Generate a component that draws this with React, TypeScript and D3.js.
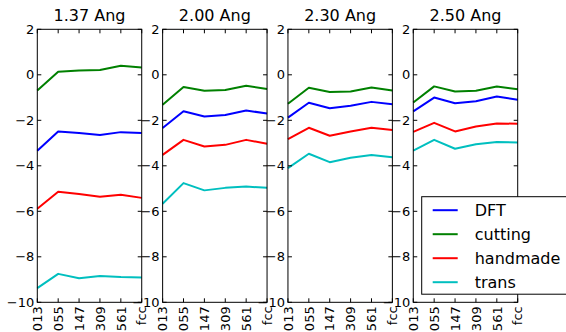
import React, { useEffect, useRef } from 'react';
import * as d3 from 'd3';

const categories = ['013', '055', '147', '309', '561', 'fcc'];
const panelTitles = ['1.37 Ang', '2.00 Ang', '2.30 Ang', '2.50 Ang'];
const yTicks = [2, 0, -2, -4, -6, -8, -10];

// one row per panel
const dftValues = [
  [-3.34, -2.49, -2.56, -2.65, -2.52, -2.56],
  [-2.34, -1.6, -1.83, -1.77, -1.57, -1.7],
  [-1.88, -1.23, -1.47, -1.36, -1.19, -1.29],
  [-1.61, -1.0, -1.25, -1.16, -0.95, -1.1],
];
const cuttingValues = [
  [-0.69, 0.13, 0.19, 0.21, 0.4, 0.32],
  [-1.32, -0.54, -0.7, -0.67, -0.48, -0.62],
  [-1.27, -0.57, -0.76, -0.73, -0.56, -0.69],
  [-1.22, -0.51, -0.73, -0.7, -0.51, -0.64],
];
const handmadeValues = [
  [-5.89, -5.14, -5.24, -5.36, -5.27, -5.41],
  [-3.52, -2.86, -3.15, -3.08, -2.86, -3.03],
  [-2.83, -2.33, -2.68, -2.49, -2.33, -2.43],
  [-2.51, -2.11, -2.49, -2.27, -2.14, -2.15],
];
const transValues = [
  [-9.38, -8.75, -8.94, -8.84, -8.89, -8.91],
  [-5.67, -4.76, -5.08, -4.97, -4.91, -4.97],
  [-4.1, -3.47, -3.84, -3.65, -3.53, -3.62],
  [-3.33, -2.86, -3.25, -3.05, -2.95, -2.98],
];

const series = [
  { name: 'DFT', values: dftValues, color: '#0000ff' },
  { name: 'cutting', values: cuttingValues, color: '#008000' },
  { name: 'handmade', values: handmadeValues, color: '#ff0000' },
  { name: 'trans', values: transValues, color: '#00bfbf' },
];

const WIDTH = 566;
const HEIGHT = 332;
const FONT = '"DejaVu Sans", sans-serif';

export default function App() {
  const svgRef = useRef<SVGSVGElement>(null);

  useEffect(() => {
    if (!svgRef.current) return;
    const svg = d3.select(svgRef.current);
    svg.selectAll('*').remove();

    const panelScale = d3.scaleBand<string>()
      .domain(panelTitles)
      .range([37.3, 517.7])
      .paddingInner(0.1668)
      .paddingOuter(0);
    const pw = panelScale.bandwidth();

    const yScale = d3.scaleLinear().domain([-10, 2]).range([302.3, 29.3]);
    const top = yScale(2);
    const bottom = yScale(-10);
    const tickLen = 4;

    panelTitles.forEach((title, p) => {
      const x0 = panelScale(title) || 0;
      const xScale = d3.scaleLinear().domain([0, categories.length - 1]).range([x0, x0 + pw]);
      const g = svg.append('g');

      // title
      g.append('text')
        .attr('x', x0 + pw / 2)
        .attr('y', 21)
        .attr('text-anchor', 'middle')
        .attr('font-family', FONT)
        .attr('font-size', 16)
        .text(title);

      // lines
      const line = d3.line<number>()
        .x((_, i) => xScale(i))
        .y(d => yScale(d));

      series.forEach(s => {
        g.append('path')
          .attr('d', line(s.values[p]) || '')
          .attr('fill', 'none')
          .attr('stroke', s.color)
          .attr('stroke-width', 2)
          .attr('stroke-linejoin', 'round');
      });

      // frame
      g.append('rect')
        .attr('x', x0)
        .attr('y', top)
        .attr('width', pw)
        .attr('height', bottom - top)
        .attr('fill', 'none')
        .attr('stroke', '#000')
        .attr('stroke-width', 1);

      // y ticks (inward on both sides)
      yTicks.forEach(t => {
        const y = yScale(t);
        g.append('line')
          .attr('x1', x0).attr('x2', x0 + tickLen)
          .attr('y1', y).attr('y2', y)
          .attr('stroke', '#000');
        g.append('line')
          .attr('x1', x0 + pw - tickLen).attr('x2', x0 + pw)
          .attr('y1', y).attr('y2', y)
          .attr('stroke', '#000');
        g.append('text')
          .attr('x', x0 - 3)
          .attr('y', y)
          .attr('dy', '0.36em')
          .attr('text-anchor', 'end')
          .attr('font-family', FONT)
          .attr('font-size', 13)
          .text(t < 0 ? `\u2212${Math.abs(t)}` : `${t}`);
      });

      // x ticks
      categories.forEach((c, i) => {
        const x = xScale(i);
        g.append('line')
          .attr('x1', x).attr('x2', x)
          .attr('y1', top).attr('y2', top + tickLen)
          .attr('stroke', '#000');
        g.append('line')
          .attr('x1', x).attr('x2', x)
          .attr('y1', bottom - tickLen).attr('y2', bottom)
          .attr('stroke', '#000');
        g.append('text')
          .attr('transform', `translate(${x},${bottom + 4}) rotate(-90)`)
          .attr('dy', '0.36em')
          .attr('text-anchor', 'end')
          .attr('font-family', FONT)
          .attr('font-size', 13)
          .text(c);
      });
    });

    // legend
    const legend = svg.append('g').attr('transform', 'translate(421.7,196.7)');
    legend.append('rect')
      .attr('width', 200)
      .attr('height', 97.5)
      .attr('fill', '#fff')
      .attr('stroke', '#000')
      .attr('stroke-width', 1);

    series.forEach((s, i) => {
      const row = legend.append('g').attr('transform', `translate(0,${13.5 + i * 24})`);
      row.append('line')
        .attr('x1', 11).attr('x2', 36)
        .attr('y1', 0).attr('y2', 0)
        .attr('stroke', s.color)
        .attr('stroke-width', 2);
      row.append('text')
        .attr('x', 53)
        .attr('y', 0)
        .attr('dy', '0.36em')
        .attr('font-family', FONT)
        .attr('font-size', 16)
        .text(s.name);
    });
  }, []);

  return (
    <svg
      ref={svgRef}
      width={WIDTH}
      height={HEIGHT}
      style={{ position: 'absolute', left: 0, top: 0, background: '#fff' }}
    />
  );
}
